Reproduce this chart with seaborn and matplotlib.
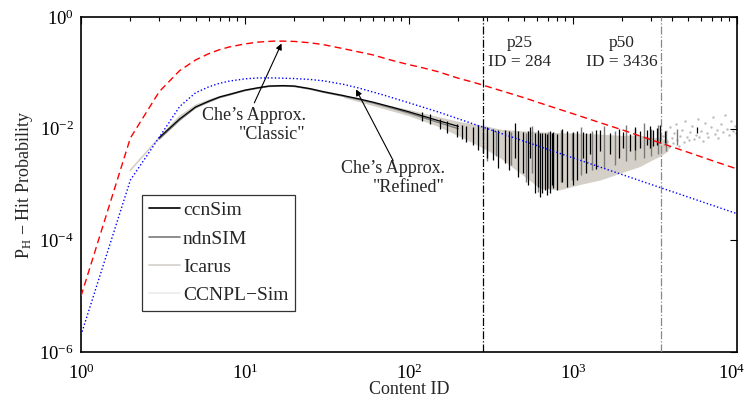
import numpy as np
import pandas as pd
import matplotlib
matplotlib.use("Agg")
import matplotlib.pyplot as plt
from matplotlib.lines import Line2D
from matplotlib.ticker import NullLocator, LogLocator
from matplotlib.transforms import ScaledTranslation
import seaborn as sns

# --- Che's approximation curves -------------------------------------------
classic_ids = [1, 2, 3, 4, 5, 6, 7, 8, 10, 12, 15, 17, 20, 25, 30, 40, 50, 60, 80,
               100, 120, 150, 200, 250, 300, 400, 500, 700, 1000, 1500, 2000,
               3000, 5000, 7000, 10000]
classic_ph = [1e-5, 6.8e-3, 0.046, 0.11, 0.17, 0.22, 0.26, 0.29, 0.33, 0.355,
              0.37, 0.37, 0.365, 0.345, 0.32, 0.27, 0.235, 0.21, 0.165, 0.14,
              0.124, 0.105, 0.08, 0.067, 0.057, 0.044, 0.036, 0.026, 0.0185,
              0.0125, 9.5e-3, 6.3e-3, 3.8e-3, 2.7e-3, 1.9e-3]

refined_ids = [1, 2, 3, 4, 5, 6, 7, 8, 10, 12, 15, 20, 25, 30, 40, 50, 70, 100,
               150, 200, 300, 500, 1000, 2000, 5000, 10000]
refined_ph = [2e-6, 1.2e-3, 7e-3, 0.025, 0.044, 0.056, 0.065, 0.071, 0.078,
              0.081, 0.081, 0.079, 0.076, 0.072, 0.062, 0.053, 0.040, 0.029,
              0.020, 0.015, 0.0100, 0.0060, 0.0030, 0.0015, 6e-4, 3e-4]

# --- simulator results: popular contents (smooth part) ---------------------
sim_ids = [3, 4, 5, 6, 7, 8, 10, 12, 14, 17, 20, 25, 30, 40, 50, 60, 80, 100,
           150, 200]
ccnsim_ph = [0.0069, 0.0150, 0.0245, 0.031, 0.037, 0.041, 0.049, 0.054, 0.058,
             0.059, 0.058, 0.052, 0.046, 0.039, 0.034, 0.030, 0.024, 0.020,
             0.0140, 0.0110]
ndnsim_ph = [0.0065, 0.0142, 0.0238, 0.030, 0.036, 0.040, 0.048, 0.053, 0.057,
             0.058, 0.057, 0.051, 0.045, 0.038, 0.033, 0.029, 0.023, 0.019,
             0.0130, 0.0100]
icarus_ids = [2, 3, 4, 5, 6, 7, 8, 10, 12, 14, 17, 20, 25, 30, 40]
icarus_ph = [0.0018, 0.0069, 0.0165, 0.026, 0.032, 0.037, 0.041, 0.049, 0.054,
             0.058, 0.059, 0.058, 0.052, 0.046, 0.039]
ccnpl_ids = [3, 4, 5, 7, 10, 14, 20, 30, 40]
ccnpl_ph = [0.0070, 0.0160, 0.0250, 0.037, 0.049, 0.058, 0.058, 0.046, 0.039]

# --- spread of the per-content hit probability (less popular contents) ----
band_ids = [40, 60, 100, 150, 200, 284, 360, 476, 630, 830, 1100, 1460, 1940,
            2560, 3000, 3390, 3800]
band_hi = [0.040, 0.030, 0.022, 0.0165, 0.0135, 0.0115, 0.0098, 0.0092,
           0.0088, 0.0085, 0.0083, 0.0080, 0.0076, 0.0077, 0.0070, 0.0068,
           0.0060]
band_lo = [0.036, 0.026, 0.017, 0.011, 0.0075, 0.0045, 0.0030, 0.0016,
           0.00085, 0.00080, 0.0010, 0.0012, 0.0016, 0.0021, 0.0027, 0.0032,
           0.0040]

ccn_spike_ids = [120, 135, 155, 170, 195, 210, 224, 247, 265, 284, 300, 327,
                 351, 385, 410, 443, 464, 498, 530, 547, 587, 610, 629, 650,
                 675, 691, 724, 741, 760, 795, 860, 916, 1005, 1053, 1155,
                 1200, 1270, 1380, 1462, 1682, 1900, 2028, 2228, 2400, 2563,
                 2814, 2950, 3090, 3237, 3400, 3635, 5740]
ccn_spike_lo = [0.0140, 0.0120, 0.0098, 0.0085, 0.0070, 0.0065, 0.0058,
                0.0051, 0.0042, 0.0036, 0.0030, 0.0027, 0.0020, 0.0024,
                0.0018, 0.0030, 0.00135, 0.0016, 0.0010, 0.0030, 0.0007,
                0.0009, 0.00059, 0.0007, 0.0008, 0.00065, 0.0007, 0.0010,
                0.00085, 0.00079, 0.0011, 0.0009, 0.0010, 0.0012, 0.0030,
                0.0016, 0.0035, 0.0019, 0.0040, 0.0035, 0.0030, 0.0045,
                0.0040, 0.0042, 0.0045, 0.0050, 0.0045, 0.0048, 0.0050,
                0.0055, 0.0055, 0.0083]
ccn_spike_hi = [0.0200, 0.0180, 0.0150, 0.0140, 0.0120, 0.0118, 0.0110,
                0.0105, 0.0115, 0.0110, 0.0105, 0.0100, 0.0095, 0.0095,
                0.0092, 0.0126, 0.0090, 0.0088, 0.0090, 0.0105, 0.0085,
                0.0095, 0.0083, 0.0082, 0.0085, 0.0080, 0.0090, 0.0083,
                0.0087, 0.0080, 0.0098, 0.0090, 0.0086, 0.0092, 0.0088,
                0.0084, 0.0085, 0.0096, 0.0094, 0.0085, 0.0100, 0.0088,
                0.0080, 0.0105, 0.0090, 0.0093, 0.0110, 0.0093, 0.0102,
                0.0118, 0.0090, 0.0106]

ndn_spike_ids = [300, 340, 420, 520, 560, 610, 700, 760, 850, 980, 1120, 1300,
                 1550, 1800, 2100, 2400, 2700, 3000, 3300, 3700, 4300]
ndn_spike_lo = [0.0026, 0.0032, 0.0022, 0.0011, 0.0016, 0.00072, 0.00085,
                0.00095, 0.0011, 0.0012, 0.0015, 0.0018, 0.0020, 0.0022,
                0.0026, 0.0028, 0.0030, 0.0033, 0.0035, 0.0040, 0.0050]
ndn_spike_hi = [0.0085, 0.0090, 0.0088, 0.0085, 0.0110, 0.0080, 0.0088,
                0.0080, 0.0095, 0.0085, 0.0105, 0.0090, 0.0110, 0.0092,
                0.0118, 0.0100, 0.0125, 0.0098, 0.0115, 0.0090, 0.0100]

# --- rarely requested contents: isolated samples --------------------------
tail_ids = [3560, 3610, 3700, 3760, 3840, 3900, 3990, 4080, 4150, 4240, 4330,
            4420, 4510, 4600, 4720, 4850, 4960, 5080, 5200, 5330, 5470, 5600,
            5750, 5900, 6050, 6200, 6380, 6550, 6700, 6900, 7100, 7300, 7500,
            7700, 7950, 8200, 8450, 8700, 8950, 9200, 9450, 9700, 9900]
tail_ph = [0.0075, 0.0052, 0.0090, 0.0061, 0.0047, 0.0105, 0.0068, 0.0055,
           0.0082, 0.0120, 0.0063, 0.0049, 0.0074, 0.0095, 0.0058, 0.0140,
           0.0071, 0.0062, 0.0088, 0.0110, 0.0066, 0.0078, 0.0150, 0.0070,
           0.0092, 0.0060, 0.0125, 0.0082, 0.0072, 0.0105, 0.0165, 0.0080,
           0.0095, 0.0068, 0.0120, 0.0088, 0.0175, 0.0100, 0.0078, 0.0135,
           0.0092, 0.0110, 0.0085]

p25_id, p50_id = 284, 3436
sim_names = ["ccnSim", "ndnSIM", "Icarus", "CCNPL\u2212Sim"]
sim_colors = ["#000000", "#7a7a7a", "#d4d0c8", "#ececec"]

# --- style -----------------------------------------------------------------
sns.set_theme(style="white")
plt.rcParams["font.family"] = ["Liberation Serif", "DejaVu Serif"]
plt.rcParams["mathtext.fontset"] = "custom"
plt.rcParams["mathtext.rm"] = "Liberation Serif"
plt.rcParams["mathtext.it"] = "Liberation Serif:italic"
plt.rcParams["mathtext.bf"] = "Liberation Serif:bold"
plt.rcParams["axes.unicode_minus"] = True

fig = plt.figure(figsize=(7.49, 4.04), dpi=100)
ax = fig.add_axes([81 / 749, 52 / 404, 656 / 749, 335 / 404])
ax.set_xscale("log")
ax.set_yscale("log")

# spread band and simulator curves
ax.fill_between(band_ids, band_lo, band_hi, color=sim_colors[2], lw=0, zorder=1)
sns.lineplot(x=ccnpl_ids, y=ccnpl_ph, ax=ax, color=sim_colors[3], lw=1,
             legend=False, zorder=2)
sns.lineplot(x=icarus_ids, y=icarus_ph, ax=ax, color=sim_colors[2], lw=1.2,
             legend=False, zorder=2)
sns.lineplot(x=sim_ids, y=ndnsim_ph, ax=ax, color=sim_colors[1], lw=1,
             legend=False, zorder=3)
sns.lineplot(x=sim_ids, y=ccnsim_ph, ax=ax, color=sim_colors[0], lw=0.9,
             legend=False, zorder=3)
ax.vlines(ndn_spike_ids, ndn_spike_lo, ndn_spike_hi, colors=sim_colors[1],
          lw=1, zorder=3)
ax.vlines(ccn_spike_ids, ccn_spike_lo, ccn_spike_hi, colors=sim_colors[0],
          lw=0.9, zorder=3)
sns.scatterplot(x=tail_ids, y=tail_ph, ax=ax, color="#bdbdbd", s=3,
                linewidth=0, legend=False, zorder=2)

# approximations
sns.lineplot(x=classic_ids, y=classic_ph, ax=ax, color="#ff0000", lw=1,
             legend=False, zorder=5)
ax.lines[-1].set_dashes([5, 3])
sns.lineplot(x=refined_ids, y=refined_ph, ax=ax, color="#0000ff", lw=1,
             legend=False, zorder=5)
ax.lines[-1].set_dashes([1, 1.6])

# percentile markers
ax.axvline(p25_id, color="black", lw=0.9, ls="-.", zorder=4)
ax.axvline(p50_id, color="#888888", lw=0.9, ls="-.", zorder=4)
ax.text(475, 0.342, "p25", ha="center", va="center", fontsize=12.5)
ax.text(475, 0.156, f"ID = {p25_id}", ha="center", va="center", fontsize=12.5)
ax.text(1990, 0.342, "p50", ha="center", va="center", fontsize=12.5)
ax.text(1990, 0.156, f"ID = {p50_id}", ha="center", va="center", fontsize=12.5)

# annotations
arrow = dict(arrowstyle="-|>", lw=0.8, color="black", mutation_scale=9,
             shrinkA=0, shrinkB=0)
ax.annotate("", xy=(16.7, 0.335), xytext=(11.4, 0.029), arrowprops=arrow)
ax.text(23.5, 0.0245, "Che\u2019s Approx.\n\"Classic\"", ha="right", va="top",
        multialignment="right", fontsize=13, linespacing=1.15)
ax.annotate("", xy=(47.5, 0.0506), xytext=(80, 0.0027), arrowprops=arrow)
ax.text(166, 0.0027, "Che\u2019s Approx.\n\"Refined\"", ha="right", va="top",
        multialignment="right", fontsize=13, linespacing=1.15)

# axes
ax.set_xlim(1, 1e4)
ax.set_ylim(1e-6, 1)
ax.set_yticks([1e-6, 1e-4, 1e-2, 1])
ax.yaxis.set_minor_locator(NullLocator())
ax.xaxis.set_major_locator(LogLocator(base=10, numticks=10))
ax.xaxis.set_minor_locator(LogLocator(base=10, subs=np.arange(2, 10), numticks=20))
ax.tick_params(which="both", direction="in", top=True, right=True,
               labelsize=13.5, colors="black", width=0.8)
ax.tick_params(axis="x", which="major", length=5, pad=8)
ax.tick_params(axis="y", which="major", length=5, pad=5)
ax.tick_params(which="minor", length=3)
for sp in ax.spines.values():
    sp.set_color("black")
    sp.set_linewidth(1.2)
ax.set_xlabel("Content ID", fontsize=13, labelpad=-1)
ax.set_ylabel("P$_\\mathrm{H}$ \u2212 Hit Probability", fontsize=13, labelpad=3)

handles = [Line2D([], [], color=c, lw=1.2) for c in sim_colors]
leg = ax.legend(handles, sim_names, loc="upper left",
                bbox_to_anchor=(0.093, 0.469), borderaxespad=0, fontsize=14,
                handlelength=1.6, handletextpad=0.15, labelspacing=0.55,
                frameon=True, fancybox=False, borderpad=0.35)
leg.get_frame().set_edgecolor("black")
leg.get_frame().set_linewidth(0.9)

# keep the rightmost x tick label inside the canvas
fig.canvas.draw()
shift = ScaledTranslation(-4 / 72, 0, fig.dpi_scale_trans)
for tick in ax.xaxis.get_major_ticks():
    if np.isclose(tick.get_loc(), 1e4):
        tick.label1.set_transform(tick.label1.get_transform() + shift)

fig.savefig("out.png", dpi=100)
